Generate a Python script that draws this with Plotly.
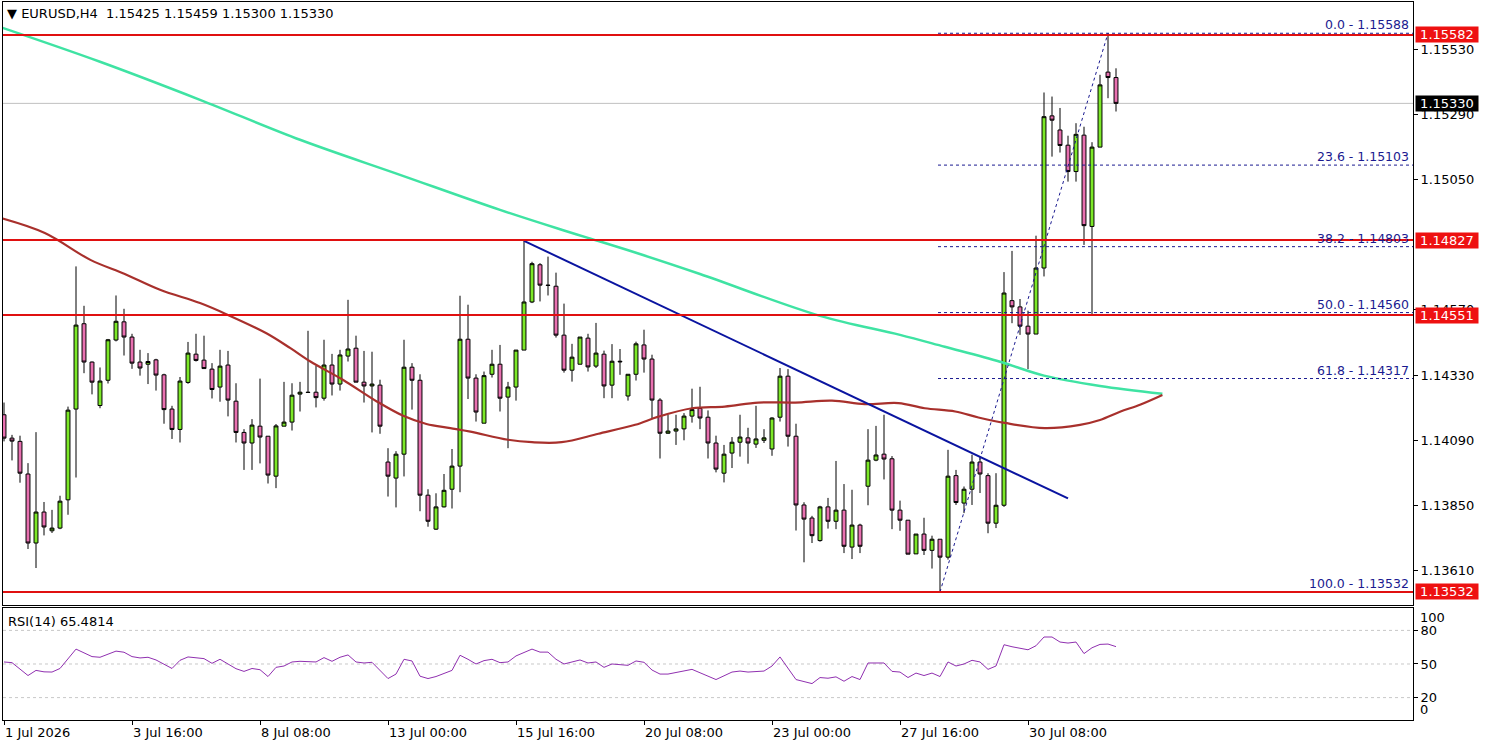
import plotly.graph_objects as go

# ---------------- data ----------------
opens = [1.14184,1.14098,1.14086,1.13966,1.13712,1.13826,1.13757,1.13767,1.13871,1.14205,
 1.14519,1.14378,1.14218,1.14311,1.14459,1.14526,1.14470,1.14378,1.14370,1.14386,
 1.14331,1.14205,1.14130,1.14303,1.14407,1.14385,1.14352,1.14286,1.14367,1.14234,
 1.14119,1.14080,1.14142,1.14105,1.13958,1.14142,1.14157,1.14260,1.14267,1.14267,
 1.14245,1.14367,1.14297,1.14400,1.14429,1.14304,1.14290,1.14293,1.14010,1.13951,
 1.14039,1.14359,1.14311,1.13888,1.13763,1.13845,1.13910,1.13995,1.14462,1.14319,
 1.14153,1.14333,1.14370,1.14249,1.14286,1.14422,1.14599,1.14736,1.14661,1.14657,
 1.14477,1.14348,1.14370,1.14466,1.14363,1.14407,1.14293,1.14381,1.14253,1.14333,
 1.14441,1.14389,1.14238,1.14116,1.14124,1.14132,1.14179,1.14207,1.14175,1.14080,
 1.13969,1.14043,1.14083,1.14099,1.14076,1.14090,1.14058,1.14175,1.14326,1.14105,
 1.13852,1.13804,1.13721,1.13845,1.13792,1.13833,1.13697,1.13778,1.13921,1.14017,
 1.14039,1.14022,1.13833,1.13796,1.13672,1.13745,1.13685,1.13726,1.13660,1.13960,
 1.13859,1.13910,1.14010,1.13960,1.13785,1.13851,1.14604,1.14581,1.14510,1.14481,
 1.14724,1.15284,1.15232,1.15176,1.15079,1.15213,1.14877,1.15169,1.15445,1.15425]
highs = [1.14229,1.14110,1.14107,1.14006,1.14120,1.13863,1.13834,1.13886,1.14214,1.14730,
 1.14585,1.14380,1.14358,1.14463,1.14623,1.14574,1.14482,1.14423,1.14411,1.14390,
 1.14335,1.14217,1.14323,1.14452,1.14482,1.14475,1.14374,1.14423,1.14419,1.14300,
 1.14131,1.14168,1.14317,1.14105,1.14150,1.14305,1.14300,1.14305,1.14493,1.14364,
 1.14460,1.14408,1.14423,1.14607,1.14475,1.14419,1.14416,1.14313,1.14061,1.14050,
 1.14460,1.14374,1.14333,1.13910,1.13895,1.13966,1.14058,1.14622,1.14589,1.14333,
 1.14343,1.14423,1.14441,1.14305,1.14422,1.14824,1.14747,1.14742,1.14766,1.14707,
 1.14593,1.14445,1.14470,1.14482,1.14522,1.14420,1.14444,1.14426,1.14333,1.14453,
 1.14497,1.14405,1.14245,1.14184,1.14184,1.14190,1.14280,1.14287,1.14200,1.14107,
 1.14073,1.14102,1.14184,1.14136,1.14217,1.14131,1.14175,1.14356,1.14352,1.14151,
 1.13862,1.13812,1.13849,1.13878,1.14014,1.13929,1.13908,1.13783,1.14131,1.14143,
 1.14184,1.14032,1.13868,1.13796,1.13745,1.13805,1.13739,1.13726,1.14055,1.13981,
 1.13920,1.14037,1.14030,1.13969,1.13969,1.14709,1.14787,1.14610,1.14567,1.14843,
 1.15370,1.15355,1.15313,1.15211,1.15257,1.15244,1.15187,1.15435,1.15588,1.15459]
lows = [1.14086,1.14016,1.13934,1.13690,1.13620,1.13740,1.13749,1.13763,1.13816,1.13953,
 1.14337,1.14259,1.14208,1.14299,1.14454,1.14402,1.14353,1.14328,1.14297,1.14273,
 1.14151,1.14095,1.14082,1.14298,1.14380,1.14354,1.14244,1.14232,1.14178,1.14082,
 1.13981,1.13981,1.14005,1.13931,1.13914,1.14142,1.14126,1.14196,1.14264,1.14211,
 1.14236,1.14255,1.14273,1.14380,1.14304,1.14229,1.14119,1.14114,1.13883,1.13843,
 1.13957,1.14203,1.13829,1.13772,1.13760,1.13843,1.13839,1.13899,1.14242,1.14159,
 1.14153,1.14321,1.14196,1.14061,1.14236,1.14422,1.14595,1.14601,1.14623,1.14468,
 1.14339,1.14306,1.14370,1.14343,1.14356,1.14245,1.14245,1.14331,1.14236,1.14310,
 1.14339,1.14169,1.14023,1.14114,1.14073,1.14090,1.14155,1.14131,1.14023,1.13972,
 1.13935,1.13988,1.14030,1.14004,1.14062,1.14080,1.14033,1.14159,1.14067,1.13758,
 1.13641,1.13712,1.13717,1.13765,1.13763,1.13675,1.13653,1.13675,1.13851,1.14013,
 1.13946,1.13763,1.13757,1.13671,1.13672,1.13668,1.13618,1.13532,1.13651,1.13852,
 1.13822,1.13852,1.13896,1.13748,1.13767,1.13845,1.14521,1.14478,1.14352,1.14481,
 1.14693,1.15134,1.15149,1.15042,1.15042,1.14809,1.14555,1.15169,1.15349,1.15300]
closes = [1.14098,1.14087,1.13969,1.13712,1.13826,1.13771,1.13767,1.13866,1.14201,1.14514,
 1.14378,1.14304,1.14308,1.14460,1.14528,1.14470,1.14374,1.14356,1.14380,1.14330,
 1.14203,1.14130,1.14308,1.14411,1.14384,1.14354,1.14277,1.14363,1.14238,1.14119,
 1.14080,1.14146,1.14102,1.13962,1.14143,1.14157,1.14256,1.14267,1.14266,1.14247,
 1.14367,1.14297,1.14404,1.14426,1.14304,1.14290,1.14297,1.14142,1.13958,1.14039,
 1.14359,1.14311,1.13888,1.13792,1.13845,1.13906,1.13995,1.14462,1.14319,1.14194,
 1.14328,1.14370,1.14245,1.14286,1.14422,1.14599,1.14740,1.14661,1.14660,1.14477,
 1.14348,1.14396,1.14470,1.14360,1.14411,1.14290,1.14381,1.14379,1.14333,1.14445,
 1.14389,1.14238,1.14116,1.14124,1.14132,1.14179,1.14203,1.14172,1.14080,1.13984,
 1.14039,1.14083,1.14102,1.14080,1.14095,1.14099,1.14172,1.14326,1.14105,1.13852,
 1.13800,1.13739,1.13845,1.13792,1.13833,1.13700,1.13778,1.13700,1.14017,1.14036,
 1.14021,1.13833,1.13796,1.13671,1.13745,1.13685,1.13726,1.13660,1.13958,1.13861,
 1.13910,1.14010,1.13966,1.13785,1.13851,1.14632,1.14581,1.14510,1.14481,1.14724,
 1.15281,1.15268,1.15175,1.15079,1.15216,1.14880,1.15169,1.15398,1.15425,1.15330]
bars = list(range(len(opens)))

# slow moving average (teal), read at sample bars
ma_slow_bars = [-0.5, 12, 24.5, 37, 49.5, 62, 69.8, 73, 79, 87, 102, 112, 117.6, 124.5, 130, 137, 144.8]
ma_slow_vals = [1.15611,1.15483,1.15343,1.15196,1.15067,1.14938,1.14864,1.14835,1.14780,
                1.14702,1.14548,1.14478,1.14434,1.14379,1.14328,1.14290,1.14261]
# faster moving average (brown)
ma_fast_bars = [-0.5,5.1,10.8,15.1,19.5,24.5,27.8,32.8,35.8,38.3,42.4,46.6,49.9,52.8,55.8,58.3,
                63,66,69.7,74.3,78.9,81.8,86,90.1,94.3,98.9,103.5,107.6,111.8,115.1,118.9,121.8,
                125.1,130.1,134.5,137,139.5,142,144.8]
ma_fast_vals = [1.14909,1.14853,1.14754,1.14702,1.14644,1.14595,1.14554,1.14484,1.14429,1.14380,
                1.14312,1.14233,1.14180,1.14150,1.14135,1.14122,1.14092,1.14083,1.14083,1.14114,
                1.14147,1.14177,1.14208,1.14214,1.14229,1.14229,1.14236,1.14223,1.14227,1.14208,
                1.14196,1.14174,1.14154,1.14135,1.14147,1.14165,1.14195,1.14221,1.14257]

# RSI(14) read at sample bars
rsi_bars = [0,1,3,4,5,6,7,9,11,12,14,15,16,17,18,19,21,22,23,25,26,27,29,30,31,32,33,34,35,36,37,
            39,40,41,42,43,44,45,46,48,49,50,51,52,53,54,56,57,58,59,60,61,62,63,64,66,67,68,69,70,
            71,72,73,74,75,76,78,79,80,81,82,83,86,89,91,92,93,95,96,97,99,101,102,103,104,105,106,
            107,108,110,111,112,113,114,115,116,117,118,119,120,121,122,123,124,125,126,128,129,130,
            131,132,133,134,135,136,137,138,139]
rsi_vals = [51.8,51.2,39.7,44.3,43.0,42.8,46.0,63.3,56.6,56.0,61.5,60.5,56.6,55.4,56.0,53.6,46.0,53.3,
            56.3,54.8,50.6,54.2,45.8,43.4,46.0,44.9,38.8,47.0,48.2,51.8,52.4,51.8,55.7,52.4,56.0,58.1,
            51.8,50.9,51.5,37.0,41.0,54.2,52.7,39.1,37.0,38.8,44.3,57.8,54.2,50.0,53.0,54.2,51.2,51.8,
            57.2,63.3,60.6,60.6,54.2,50.0,51.8,53.6,50.9,51.8,47.0,50.0,48.8,52.7,51.5,44.6,41.0,41.0,
            45.2,36.1,42.8,43.7,42.8,43.7,48.2,56.3,36.1,32.5,37.9,37.3,38.5,34.6,38.8,36.1,50.9,50.9,
            43.4,42.8,37.9,41.9,39.7,41.9,38.8,51.8,48.2,50.0,53.3,51.8,45.2,48.2,67.2,65.4,62.7,66.3,
            74.1,74.1,69.6,68.7,69.6,59.3,64.5,67.5,67.8,65.5]

red_levels = [1.15582, 1.14827, 1.14551, 1.13532]
bid_price = 1.15330
trend_bars = [65, 133]
trend_vals = [1.14824, 1.13876]
fib_low_bar, fib_high_bar = 117, 138
fib_low, fib_high = 1.13532, 1.15588
fib_ratios = [0.0, 23.6, 38.2, 50.0, 61.8, 100.0]
price_ticks = [1.13610, 1.13850, 1.14090, 1.14330, 1.14570, 1.15050, 1.15290, 1.15530]
time_tick_bars = [0, 16, 32, 48, 64, 80, 96, 112, 128]
time_tick_text = ["1 Jul 2026", "3 Jul 16:00", "8 Jul 08:00", "13 Jul 00:00", "15 Jul 16:00",
                  "20 Jul 08:00", "23 Jul 00:00", "27 Jul 16:00", "30 Jul 08:00"]
rsi_levels = [20, 50, 80]
title_text = "▼ EURUSD,H4  1.15425 1.15459 1.15300 1.15330"
rsi_title = "RSI(14) 65.4814"

# ---------------- figure ----------------
FONT = "DejaVu Sans"
NAVY = "#1a1a90"
RED = "#e01010"

fig = go.Figure()

fig.add_trace(go.Scatter(x=ma_slow_bars, y=ma_slow_vals, mode="lines", line_shape="spline",
                         line=dict(color="#3fe3a3", width=2.5), hoverinfo="skip",
                         xaxis="x", yaxis="y"))
fig.add_trace(go.Scatter(x=ma_fast_bars, y=ma_fast_vals, mode="lines", line_shape="spline",
                         line=dict(color="#a8302c", width=2.2), hoverinfo="skip",
                         xaxis="x", yaxis="y"))
fig.add_trace(go.Scatter(x=trend_bars, y=trend_vals, mode="lines",
                         line=dict(color="#0a14a0", width=2), hoverinfo="skip",
                         xaxis="x", yaxis="y"))
fig.add_trace(go.Scatter(x=[fib_low_bar, fib_high_bar], y=[fib_low, fib_high], mode="lines",
                         line=dict(color=NAVY, width=1, dash="dot"), hoverinfo="skip",
                         xaxis="x", yaxis="y"))

fig.add_trace(go.Candlestick(
    x=bars, open=opens, high=highs, low=lows, close=closes,
    increasing=dict(fillcolor="#7ce828", line=dict(color="black", width=1)),
    decreasing=dict(fillcolor="#e870b0", line=dict(color="black", width=1)),
    whiskerwidth=0, hoverinfo="skip", xaxis="x", yaxis="y"))

fig.add_trace(go.Scatter(x=rsi_bars, y=rsi_vals, mode="lines",
                         line=dict(color="#9030b0", width=1), hoverinfo="skip",
                         xaxis="x2", yaxis="y2"))

shapes = []
annotations = []

# bid line
shapes.append(dict(type="line", xref="x domain", x0=0, x1=1, yref="y", y0=bid_price, y1=bid_price,
                   line=dict(color="#c0c0c0", width=1), layer="below"))
# fibonacci levels
rng = fib_high - fib_low
for r in fib_ratios:
    lvl = fib_high - rng * r / 100.0
    shapes.append(dict(type="line", xref="x", x0=fib_low_bar - 0.25, x1=176.2, yref="y", y0=lvl, y1=lvl,
                       line=dict(color=NAVY, width=1, dash="3px,3px")))
    annotations.append(dict(xref="paper", x=1, xanchor="right", xshift=-2, yref="y", y=lvl,
                            yanchor="bottom", yshift=-1, showarrow=False,
                            text=f"{r:.1f} - {lvl:.5f}", font=dict(color=NAVY, size=12.5, family=FONT)))
# red horizontal levels
for lvl in red_levels:
    shapes.append(dict(type="line", xref="x domain", x0=0, x1=1, yref="y", y0=lvl, y1=lvl,
                       line=dict(color=RED, width=2)))
    annotations.append(dict(xref="paper", x=1, xanchor="left", xshift=2, yref="y", y=lvl,
                            yanchor="middle", showarrow=False, text=f"{lvl:.5f}",
                            bgcolor="#ee1111", width=62, height=15, borderpad=0,
                            font=dict(color="white", size=13, family=FONT)))
annotations.append(dict(xref="paper", x=1, xanchor="left", xshift=2, yref="y", y=bid_price,
                        yanchor="middle", showarrow=False, text=f"{bid_price:.5f}",
                        bgcolor="black", width=62, height=15, borderpad=0,
                        font=dict(color="white", size=13, family=FONT)))
# RSI level lines
for lv in rsi_levels:
    shapes.append(dict(type="line", xref="x2 domain", x0=0, x1=1, yref="y2", y0=lv, y1=lv,
                       line=dict(color="#c8c8c8", width=1, dash="3px,3px"), layer="below"))
annotations.append(dict(xref="paper", x=1, xanchor="left", xshift=5, yref="y2", y=100,
                        yanchor="top", yshift=0, showarrow=False, text="100",
                        font=dict(size=13, family=FONT, color="black")))
annotations.append(dict(xref="paper", x=1, xanchor="left", xshift=5, yref="y2", y=0,
                        yanchor="bottom", yshift=1, showarrow=False, text="0",
                        font=dict(size=13, family=FONT, color="black")))
# titles
annotations.append(dict(xref="paper", x=0, xanchor="left", xshift=2, yref="paper", y=1,
                        yanchor="top", yshift=-2, showarrow=False, text=title_text,
                        font=dict(size=13, family=FONT, color="black")))
annotations.append(dict(xref="paper", x=0, xanchor="left", xshift=3, yref="y2 domain", y=1,
                        yanchor="top", yshift=-4, showarrow=False, text=rsi_title,
                        font=dict(size=13, family=FONT, color="black")))

axis_common = dict(showline=True, linecolor="black", linewidth=1, mirror=True,
                   showgrid=False, zeroline=False)

fig.update_layout(
    width=1485, height=747,
    margin=dict(l=3, r=72, t=2, b=27),
    paper_bgcolor="white", plot_bgcolor="white",
    font=dict(family=FONT, size=13, color="black"),
    showlegend=False,
    hovermode=False,
    xaxis=dict(domain=[0, 1], range=[-0.125, 176.125], anchor="y", showticklabels=False,
               ticks="", rangeslider=dict(visible=False), **axis_common),
    xaxis2=dict(domain=[0, 1], matches="x", anchor="y2", tickmode="array",
                tickvals=time_tick_bars, ticktext=time_tick_text, ticks="outside", ticklen=4,
                tickcolor="black", ticklabelposition="outside right", **axis_common),
    yaxis=dict(domain=[0.1602, 1], range=[1.13484, 1.15703], side="right", anchor="x",
               tickmode="array", tickvals=price_ticks, tickformat=".5f", ticks="outside",
               ticklen=4, tickcolor="black", **axis_common),
    yaxis2=dict(domain=[0, 0.156], range=[0, 100], side="right", anchor="x2",
                tickmode="array", tickvals=rsi_levels, ticks="outside", ticklen=4,
                tickcolor="black", **axis_common),
    shapes=shapes,
    annotations=annotations,
)

fig.write_html("out.html", config={"displayModeBar": False},
               post_script="document.body.style.margin='0px';document.body.style.overflow='hidden';")
